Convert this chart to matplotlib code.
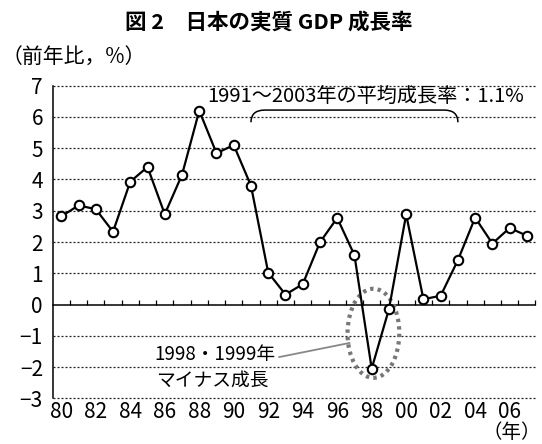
import numpy as np
import matplotlib
matplotlib.use("Agg")
import matplotlib.pyplot as plt
from matplotlib.patches import Ellipse, PathPatch
from matplotlib.path import Path

plt.rcParams['font.family'] = ['Noto Sans CJK JP', 'DejaVu Sans']

# 実質GDP成長率 (前年比, %)
years = list(range(1980, 2008))
growth = [2.82, 3.17, 3.05, 2.33, 3.93, 4.40, 2.89, 4.15, 6.20, 4.84,
          5.10, 3.80, 1.02, 0.32, 0.65, 1.99, 2.77, 1.58, -2.05, -0.15,
          2.88, 0.17, 0.28, 1.42, 2.78, 1.95, 2.45, 2.20]
tick_years = list(range(1980, 2007, 2))
tick_labels = ['%02d' % (y % 100) for y in tick_years]
y_ticks = list(range(-3, 8))
y_labels = [str(v) if v >= 0 else '\u2212' + str(-v) for v in y_ticks]

title = '図 2\u3000日本の実質 GDP 成長率'
unit_y = '（前年比，%）'
unit_x = '（年）'
avg_note = '1991～2003年の平均成長率：1.1%'
neg_note1 = '1998・1999年'
neg_note2 = 'マイナス成長'

fig = plt.figure(figsize=(5.42, 4.44), dpi=100)
ax = fig.add_axes([0.0972, 0.1029, 0.8908, 0.7041])

ax.plot(years, growth, color='black', lw=1.6, marker='o', ms=6.8,
        mfc='white', mec='black', mew=1.5, zorder=5, clip_on=False)

ax.set_xlim(1979.5, 2007.5)
ax.set_ylim(-3, 7)
ax.set_yticks(y_ticks)
ax.set_yticklabels(y_labels)
ax.set_xticks(tick_years)
ax.set_xticklabels(tick_labels)
ax.tick_params(axis='y', length=0, pad=7, labelsize=15)
ax.tick_params(axis='x', length=0, pad=2, labelsize=15)

for s in ['top', 'right', 'bottom']:
    ax.spines[s].set_visible(False)
ax.spines['left'].set_linewidth(1.1)

for v in y_ticks:
    if v != 0:
        ax.axhline(v, color='#222222', lw=0.9, ls=(0, (1.6, 1.6)), zorder=1,
                   clip_on=False)

# zero line with year-boundary ticks
zero = ax.secondary_xaxis(0.3)
zero.set_xticks(np.arange(1980.5, 2008, 1.0))
zero.tick_params(direction='in', length=3.5, width=0.9, labelbottom=False)
zero.spines['bottom'].set_linewidth(1.1)

# bracket over 1991-2003
x0, x1, yb, yt = 1991.0, 2003.0, 5.83, 6.22
verts = [(x0, yb), (x0, yt), (x0 + 0.8, yt), (x1 - 0.8, yt),
         (x1, yt), (x1, yb)]
codes = [Path.MOVETO, Path.CURVE3, Path.CURVE3, Path.LINETO,
         Path.CURVE3, Path.CURVE3]
ax.add_patch(PathPatch(Path(verts, codes), fc='none', ec='black', lw=1.1))
ax.text(1997.65, 6.62, avg_note, ha='center', va='center', fontsize=14.5)

# 1998-1999 negative growth
ax.add_patch(Ellipse((1998.1, -0.92), 3.0, 2.85, fill=False, ec='#777777',
                     lw=3, ls=(0, (0.8, 1.0)), zorder=4))
ax.plot([1992.64, 1996.71], [-1.68, -1.23], color='#888888', lw=1.3)
ax.text(1985.38, -1.59, neg_note1, ha='left', va='center', fontsize=13.5)
ax.text(1985.5, -2.43, neg_note2, ha='left', va='center', fontsize=13.5)

fig.text(0.495, 0.95, title, ha='center', va='center', fontsize=15.5,
         fontweight='bold')
fig.text(0.002, 0.872, unit_y, ha='left', va='center', fontsize=15)
fig.text(0.998, 0.027, unit_x, ha='right', va='center', fontsize=14)

fig.savefig('out.png', dpi=100)
